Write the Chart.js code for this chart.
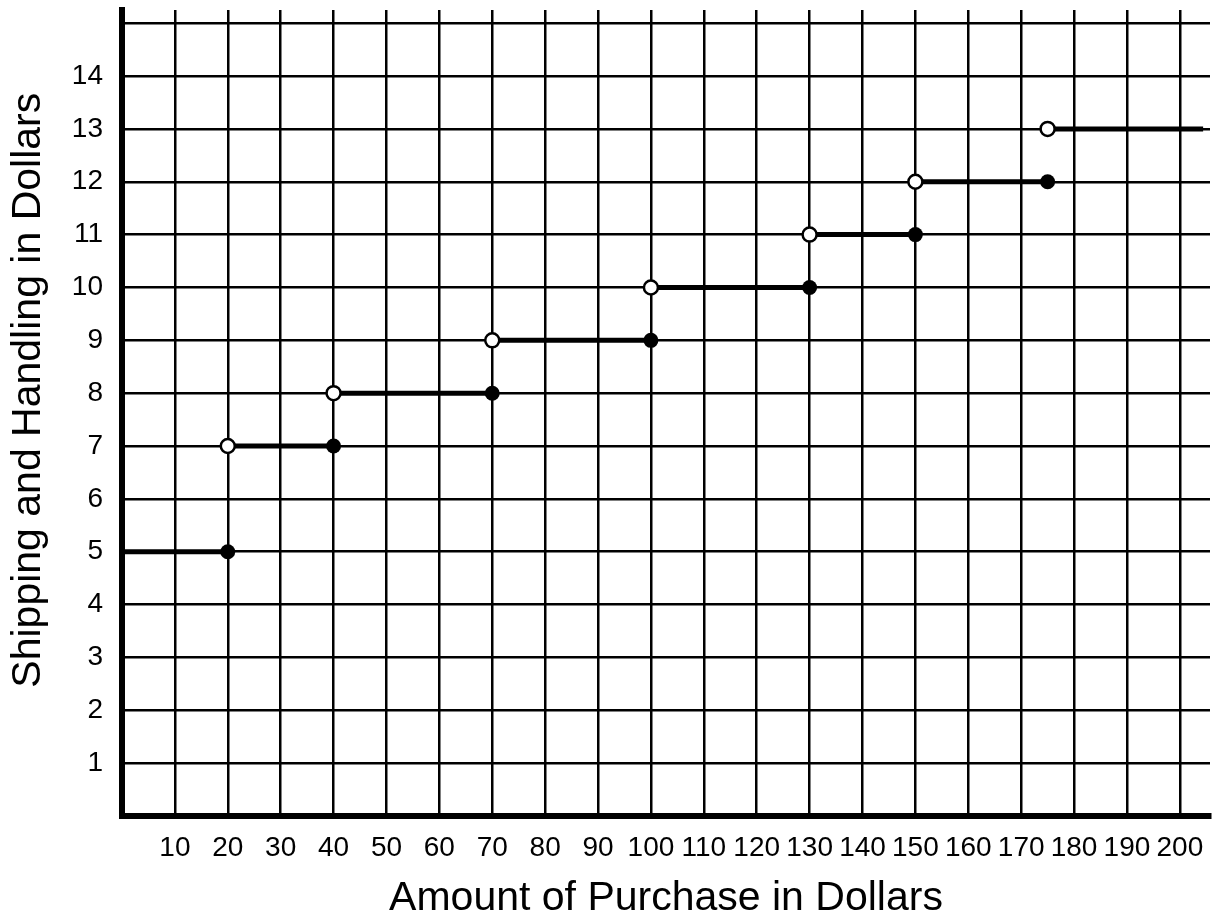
<!DOCTYPE html>
<html lang="en">
<head>
    <meta charset="UTF-8">
    <title>Shipping and Handling</title>
    <script src="https://cdn.jsdelivr.net/npm/chart.js"></script>
    <style>
        body { margin: 0; background: #fff; }
    </style>
</head>
<body>
    <canvas id="shippingChart" width="1213" height="922"></canvas>
    <script>
        // step function: cost applies from start (open) to end (closed)
        const stepStarts = [0, 20, 40, 70, 100, 130, 150, 175];
        const stepEnds = [20, 40, 70, 100, 130, 150, 175, 204.4];
        const stepCosts = [5, 7, 8, 9, 10, 11, 12, 13];

        const xTickStep = 10;
        const yTickStep = 1;

        const tickFont = { family: "'Liberation Sans Narrow', 'Liberation Sans', Arial, sans-serif", size: 28 };
        const titleFont = { family: "'Liberation Sans', Arial, sans-serif", size: 41 };

        const segments = stepStarts.map((start, i) => ({
            type: 'line',
            data: [{x: start, y: stepCosts[i]}, {x: stepEnds[i], y: stepCosts[i]}],
            borderColor: '#000',
            borderWidth: 5,
            borderCapStyle: 'butt',
            pointRadius: 0,
            fill: false,
            order: 2
        }));

        // closed dots at the right end of each step (not the last one)
        const closedDots = {
            type: 'scatter',
            data: stepEnds.slice(0, -1).map((x, i) => ({x: x, y: stepCosts[i]})),
            pointRadius: 7.5,
            backgroundColor: '#000',
            borderColor: '#000',
            borderWidth: 0,
            order: 0
        };

        // open dots at the left end of each step (not the first one)
        const openDots = {
            type: 'scatter',
            data: stepStarts.slice(1).map((x, i) => ({x: x, y: stepCosts[i + 1]})),
            pointRadius: 7,
            backgroundColor: '#fff',
            borderColor: '#000',
            borderWidth: 2.5,
            order: 0
        };

        const ctx = document.getElementById('shippingChart').getContext('2d');

        new Chart(ctx, {
            type: 'line',
            data: {
                datasets: [...segments, closedDots, openDots]
            },
            options: {
                responsive: false,
                animation: false,
                layout: {
                    autoPadding: false,
                    padding: {top: 10, right: 3, bottom: 0, left: 0}
                },
                scales: {
                    x: {
                        type: 'linear',
                        min: 0,
                        max: 205.7,
                        afterFit: scale => {
                            scale.height = 106;
                            scale.paddingLeft = 0;
                            scale.paddingRight = 0;
                        },
                        grid: {color: '#000', lineWidth: 2.5, drawTicks: false},
                        border: {color: '#000', width: 6},
                        ticks: {
                            stepSize: xTickStep,
                            includeBounds: false,
                            autoSkip: false,
                            maxRotation: 0,
                            padding: 15,
                            color: '#000',
                            font: tickFont,
                            callback: v => (v > 0 && v <= 200 ? v : '')
                        },
                        title: {
                            display: true,
                            text: 'Amount of Purchase in Dollars',
                            color: '#000',
                            font: titleFont,
                            padding: {top: 0, bottom: -1}
                        }
                    },
                    y: {
                        min: 0,
                        max: 15.25,
                        afterFit: scale => {
                            scale.width = 122;
                            scale.paddingTop = 0;
                            scale.paddingBottom = 0;
                        },
                        grid: {color: '#000', lineWidth: 2.5, drawTicks: false},
                        border: {color: '#000', width: 6},
                        ticks: {
                            stepSize: yTickStep,
                            includeBounds: false,
                            padding: 19,
                            color: '#000',
                            font: tickFont,
                            callback: v => (v > 0 && v < 15 ? v : '')
                        },
                        title: {
                            display: true,
                            text: '    Shipping and Handling in Dollars',
                            color: '#000',
                            font: titleFont,
                            padding: {top: 4, bottom: 0}
                        }
                    }
                },
                plugins: {
                    legend: {display: false},
                    tooltip: {enabled: false}
                }
            }
        });
    </script>
</body>
</html>
